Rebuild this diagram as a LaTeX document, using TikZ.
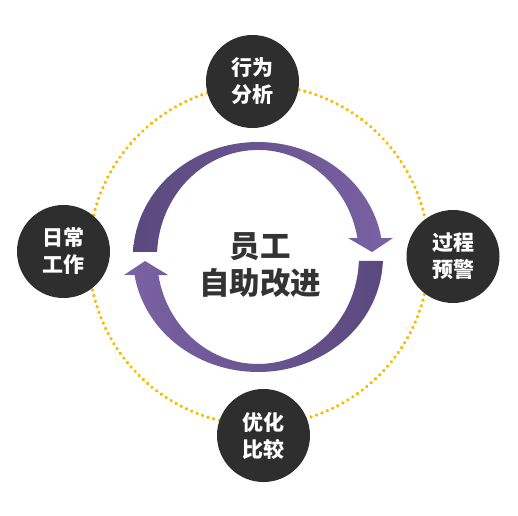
\documentclass[tikz,border=0pt]{standalone}
\usepackage{fontspec}
\newfontfamily\cjk{Noto Sans CJK SC}
\definecolor{nodefill}{HTML}{2E2E2E}
\definecolor{dotyellow}{HTML}{F5BC00}
\definecolor{purpD}{HTML}{5A497E}
\definecolor{purpL}{HTML}{7A62A4}
\definecolor{centertext}{HTML}{333333}
\tikzset{
  stage/.style={circle, fill=nodefill, minimum size=93pt, inner sep=0pt,
    text=white, align=center, font=\cjk\bfseries\fontsize{21}{27}\selectfont},
  dotring/.style={draw=dotyellow, line width=3.7pt, line cap=round,
    dash pattern=on 0.01pt off 5.8pt},
  centerlabel/.style={align=center, text=centertext,
    font=\cjk\bfseries\fontsize{30.5}{37}\selectfont}
}
\begin{document}
\begin{tikzpicture}[x=1pt,y=1pt]
\useasboundingbox (0,0) rectangle (518,515);
% dotted ring
\coordinate (ringc) at (259,260);
\draw[dotring] (ringc) circle[radius=170pt];
% upper circular arrow
\shade[left color=purpD, right color=purpL]
  (133.1,263) arc[start angle=177.5, end angle=9.5, x radius=125pt, y radius=115pt]
  -- (393,277) -- (372,263) -- (348,277)
  -- (357.4,277) arc[start angle=10.2, end angle=177.3, x radius=101pt, y radius=107pt]
  -- cycle;
% lower circular arrow
\shade[left color=purpL, right color=purpD]
  (382.9,254) arc[start angle=-2, end angle=-171, x radius=125pt, y radius=115pt]
  -- (124,240) -- (145,254) -- (168,240)
  -- (158.4,240) arc[start angle=-170.3, end angle=-2.14, x radius=101pt, y radius=107pt]
  -- cycle;
% centre text
\node[centerlabel] (center) at (260,250) {员工\\自助改进};
% stage nodes
\node[stage] (top) at (252.5,433.5) {行为\\分析};
\node[stage] (left) at (63.5,263.5) {日常\\工作};
\node[stage] (right) at (453,258.5) {过程\\预警};
\node[stage] (bottom) at (263.5,79.5) {优化\\比较};
\end{tikzpicture}
\end{document}
